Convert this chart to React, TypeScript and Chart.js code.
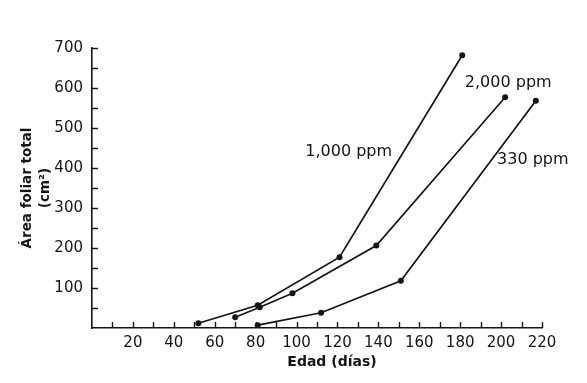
import React, { useEffect, useRef } from "react";
import { Chart, registerables } from "chart.js";

Chart.register(...registerables);

const series1000X = [52, 81, 121, 181];
const series1000Y = [12, 57, 177, 682];
const series2000X = [70, 82, 98, 139, 202];
const series2000Y = [27, 52, 87, 206, 577];
const series330X = [81, 112, 151, 217];
const series330Y = [7, 38, 118, 568];

const seriesLabels = ["1,000 ppm", "2,000 ppm", "330 ppm"];
const labelX = [125.5, 203.5, 215.5];
const labelY = [440, 612, 420];

const xTitle = "Edad (días)";
const yTitle = ["Área foliar total", "(cm²)"];

const INK = "#141414";

function pts(xs: number[], ys: number[]) {
  return xs.map((x, i) => ({ x, y: ys[i] }));
}

const decor = {
  id: "decor",
  afterDraw(chart: any) {
    const ctx = chart.ctx;
    const xs = chart.scales.x;
    const ys = chart.scales.y;
    const area = chart.chartArea;
    ctx.save();
    ctx.strokeStyle = INK;
    ctx.lineWidth = 1.4;
    for (let v = 10; v <= 220; v += 10) {
      const px = Math.round(xs.getPixelForValue(v)) + 0.5;
      ctx.beginPath();
      ctx.moveTo(px, area.bottom);
      ctx.lineTo(px, area.bottom - 6);
      ctx.stroke();
    }
    for (let v = 50; v <= 700; v += 50) {
      const py = Math.round(ys.getPixelForValue(v)) + 0.5;
      ctx.beginPath();
      ctx.moveTo(area.left, py);
      ctx.lineTo(area.left + 6, py);
      ctx.stroke();
    }
    ctx.fillStyle = INK;
    ctx.textAlign = "center";
    ctx.textBaseline = "middle";
    ctx.font = "16px 'DejaVu Sans'";
    seriesLabels.forEach((t, i) => {
      ctx.fillText(t, xs.getPixelForValue(labelX[i]), ys.getPixelForValue(labelY[i]));
    });
    ctx.font = "bold 14px 'DejaVu Sans'";
    ctx.fillText(xTitle, 332, 362);
    ctx.font = "bold 13.5px 'DejaVu Sans'";
    const cy = (area.top + area.bottom) / 2;
    [27, 45].forEach((cx, i) => {
      ctx.save();
      ctx.translate(cx, cy);
      ctx.rotate(-Math.PI / 2);
      ctx.fillText(yTitle[i], 0, 0);
      ctx.restore();
    });
    ctx.restore();
  },
};

export default function App() {
  const ref = useRef<HTMLCanvasElement | null>(null);
  useEffect(() => {
    if (!ref.current) return;
    const ds = (data: any) => ({
      data,
      borderColor: INK,
      backgroundColor: INK,
      borderWidth: 1.7,
      pointRadius: 3,
      pointBackgroundColor: INK,
      pointBorderWidth: 0,
      showLine: true,
      tension: 0,
    });
    const chart = new Chart(ref.current, {
      type: "scatter",
      data: {
        datasets: [
          ds(pts(series1000X, series1000Y)),
          ds(pts(series2000X, series2000Y)),
          ds(pts(series330X, series330Y)),
        ],
      },
      options: {
        responsive: false,
        animation: false,
        layout: { padding: { left: 0, top: 48, right: 45, bottom: 0 } },
        plugins: { legend: { display: false }, tooltip: { enabled: false } },
        scales: {
          x: {
            type: "linear",
            min: 0,
            max: 220,
            afterFit: (s: any) => {
              s.height = 55;
            },
            border: { display: true, color: INK, width: 1.6 },
            grid: { display: true, drawOnChartArea: false, drawTicks: false },
            ticks: {
              stepSize: 10,
              autoSkip: false,
              maxRotation: 0,
              padding: 6,
              color: INK,
              font: { family: "'DejaVu Sans'", size: 15 },
              callback: (v: any) => (v % 20 === 0 && v !== 0 ? String(v) : ""),
            },
          },
          y: {
            type: "linear",
            min: 0,
            max: 700,
            afterFit: (s: any) => {
              s.width = 92;
            },
            border: { display: true, color: INK, width: 1.6 },
            grid: { display: true, drawOnChartArea: false, drawTicks: false },
            ticks: {
              stepSize: 100,
              autoSkip: false,
              padding: 9,
              color: INK,
              font: { family: "'DejaVu Sans'", size: 15 },
              callback: (v: any) => (v !== 0 ? String(v) : ""),
            },
          },
        },
      },
      plugins: [decor],
    });
    return () => chart.destroy();
  }, []);
  return (
    <div style={{ position: "absolute", left: 0, top: 0, width: 587, height: 383, background: "#fff" }}>
      <canvas ref={ref} width={587} height={383} />
    </div>
  );
}
